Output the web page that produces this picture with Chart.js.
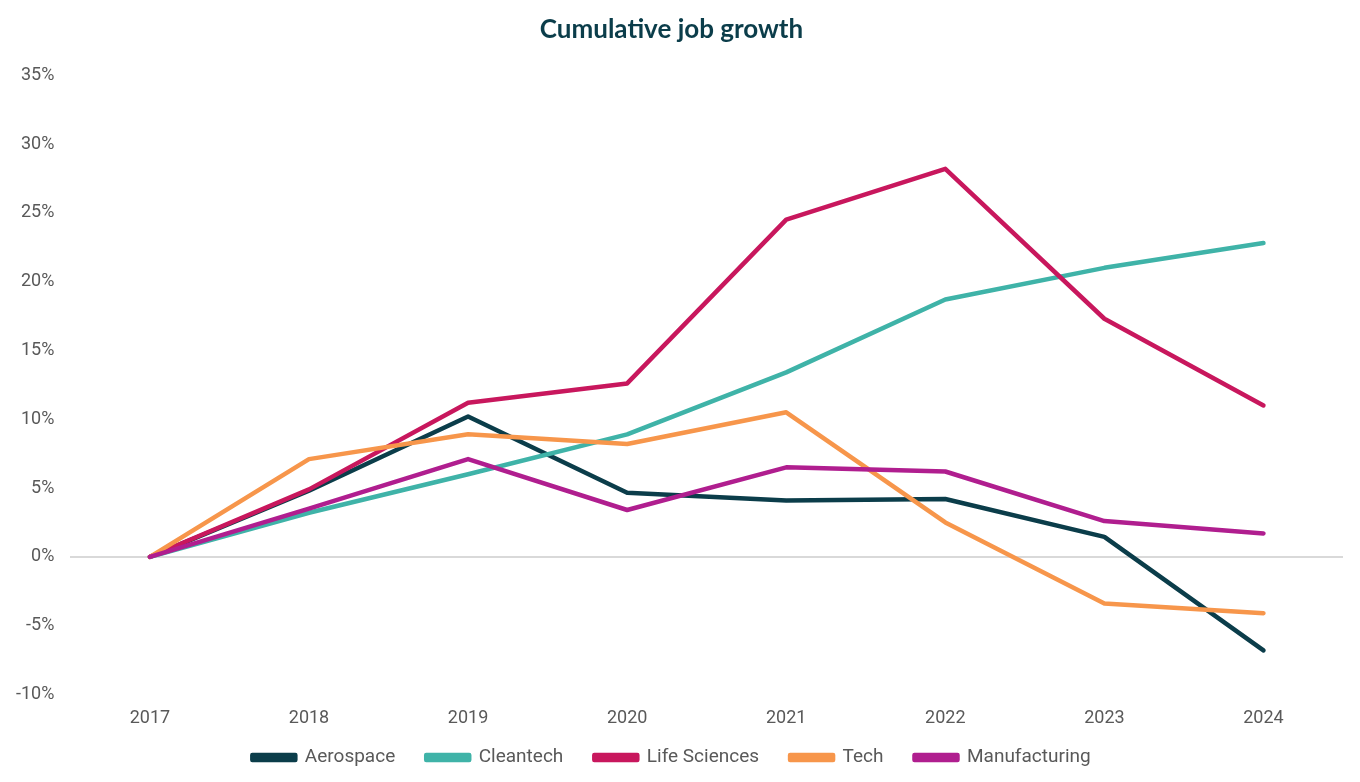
<!DOCTYPE html>
<html>
<head>
<meta charset="utf-8">
<script src="https://cdn.jsdelivr.net/npm/chart.js@4.4.1/dist/chart.umd.min.js"></script>
<style>
    html, body { margin: 0; padding: 0; background: #fff; }
    #wrap { position: relative; width: 1360px; height: 782px; }
</style>
</head>
<body>
<div id="wrap"><canvas id="growthChart"></canvas></div>
<script>
// Cumulative job growth by sector, % change since 2017
const years = ['2017', '2018', '2019', '2020', '2021', '2022', '2023', '2024'];
const aerospace = [0, 4.8, 10.2, 4.65, 4.1, 4.2, 1.45, -6.8];
const cleantech = [0, 3.2, 6.0, 8.9, 13.4, 18.7, 21.0, 22.8];
const lifeSciences = [0, 4.9, 11.2, 12.6, 24.5, 28.2, 17.3, 11.0];
const tech = [0, 7.1, 8.9, 8.2, 10.5, 2.5, -3.4, -4.1];
const manufacturing = [0, 3.5, 7.1, 3.4, 6.5, 6.2, 2.6, 1.7];

const colors = {
    aerospace: '#0b3d4a',
    cleantech: '#3fb3a8',
    lifeSciences: '#c8175d',
    tech: '#f7964b',
    manufacturing: '#b01e8f'
};

function series(label, data, color, order) {
    return {
        label: label,
        data: data,
        borderColor: color,
        backgroundColor: color,
        borderWidth: 4.5,
        borderCapStyle: 'round',
        borderJoinStyle: 'round',
        pointRadius: 0,
        pointHoverRadius: 0,
        tension: 0,
        order: order
    };
}

// legend padding is wide (for horizontal spacing), so shrink its box
// and draw it from a higher top to keep the plot tall
const LEGEND_LIFT = 17;
const legendLift = {
    id: 'legendLift',
    beforeLayout(chart) {
        const lg = chart.legend;
        if (!lg || lg._lifted) return;
        const fit = lg.fit, draw = lg.draw;
        lg.fit = function() { fit.call(this); this.height -= LEGEND_LIFT; };
        lg.draw = function() {
            const t = this.top;
            this.top = t - LEGEND_LIFT;
            draw.call(this);
            this.top = t;
        };
        lg._lifted = true;
    }
};

document.addEventListener('DOMContentLoaded', function() {
    const ctx = document.getElementById('growthChart');
    new Chart(ctx, {
        type: 'line',
        data: {
            labels: years,
            datasets: [
                series('Aerospace', aerospace, colors.aerospace, 4),
                series('Cleantech', cleantech, colors.cleantech, 3),
                series('Life Sciences', lifeSciences, colors.lifeSciences, 2),
                series('Tech', tech, colors.tech, 1),
                series('Manufacturing', manufacturing, colors.manufacturing, 0)
            ]
        },
        plugins: [legendLift],
        options: {
            responsive: true,
            maintainAspectRatio: false,
            animation: false,
            layout: { padding: { left: 0, right: 17, top: 6, bottom: 5 } },
            plugins: {
                title: {
                    display: true,
                    text: 'Cumulative job growth',
                    color: '#0b3d4a',
                    font: { family: 'Lato', size: 26, weight: 'bold' },
                    padding: { top: 8, bottom: 30 }
                },
                legend: {
                    position: 'bottom',
                    labels: {
                        sort: (a, b) => a.datasetIndex - b.datasetIndex,
                        boxWidth: 43,
                        boxHeight: 5,
                        padding: 31,
                        color: '#595959',
                        font: { family: 'Roboto', size: 19 }
                    }
                },
                tooltip: { enabled: false }
            },
            scales: {
                x: {
                    offset: true,
                    grid: { display: false },
                    border: { display: false },
                    ticks: {
                        color: '#595959',
                        padding: 5,
                        font: { family: 'Roboto', size: 18 }
                    }
                },
                y: {
                    min: -10,
                    max: 35,
                    grid: {
                        drawTicks: false,
                        lineWidth: 2,
                        color: function(c) {
                            return c.tick && c.tick.value === 0 ? '#d9d9d9' : 'rgba(0,0,0,0)';
                        }
                    },
                    border: { display: false },
                    ticks: {
                        stepSize: 5,
                        color: '#595959',
                        padding: 16,
                        font: { family: 'Roboto', size: 18 },
                        callback: function(value) { return value + '%'; }
                    }
                }
            }
        }
    });
});
</script>
</body>
</html>
